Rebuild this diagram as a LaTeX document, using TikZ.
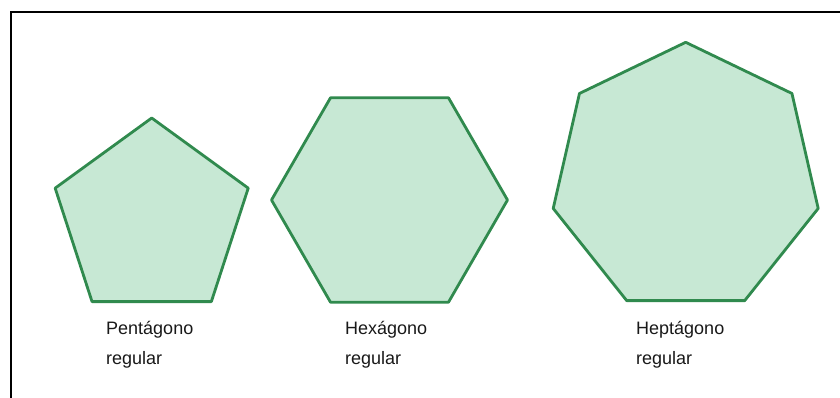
\documentclass[tikz,border=0pt]{standalone}
\usepackage{fontspec}
\setmainfont{Liberation Sans}
\usetikzlibrary{calc}
\definecolor{polyfill}{RGB}{199,232,212}
\definecolor{polyline}{RGB}{48,138,78}
\begin{document}
\begin{tikzpicture}[x=1pt,y=-1pt,
  poly/.style={draw=polyline,fill=polyfill,line width=2.8pt,line join=round},
  label/.style={anchor=base west,align=left,inner sep=0pt,font=\fontsize{18}{30}\selectfont,text=black!90}]
\useasboundingbox (0,0) rectangle (840,397);
\fill[white] (0,0) rectangle (840,397);
\draw[line width=2.8pt,black] (11,398) -- (11,12) -- (841,12);
% pentagon
\coordinate (pc) at (151.7,219.5);
\draw[poly] ($(pc)+(-90:101.5)$) \foreach \k in {1,...,4}{ -- ($(pc)+({-90+72*\k}:101.5)$)} -- cycle;
% hexagon
\coordinate (hc) at (389.5,200);
\draw[poly] ($(hc)+(0:118)$) \foreach \k in {1,...,5}{ -- ($(hc)+({60*\k}:118)$)} -- cycle;
% heptagon
\coordinate (sc) at (685.7,178.2);
\draw[poly] ($(sc)+(-90:135.9)$) \foreach \k in {1,...,6}{ -- ($(sc)+({-90+360/7*\k}:135.9)$)} -- cycle;
\node[label] (t1) at (106,364) {Pentágono\\regular};
\node[label] (t2) at (345,364) {Hexágono\\regular};
\node[label] (t3) at (636,364) {Heptágono\\regular};
\end{tikzpicture}
\end{document}
